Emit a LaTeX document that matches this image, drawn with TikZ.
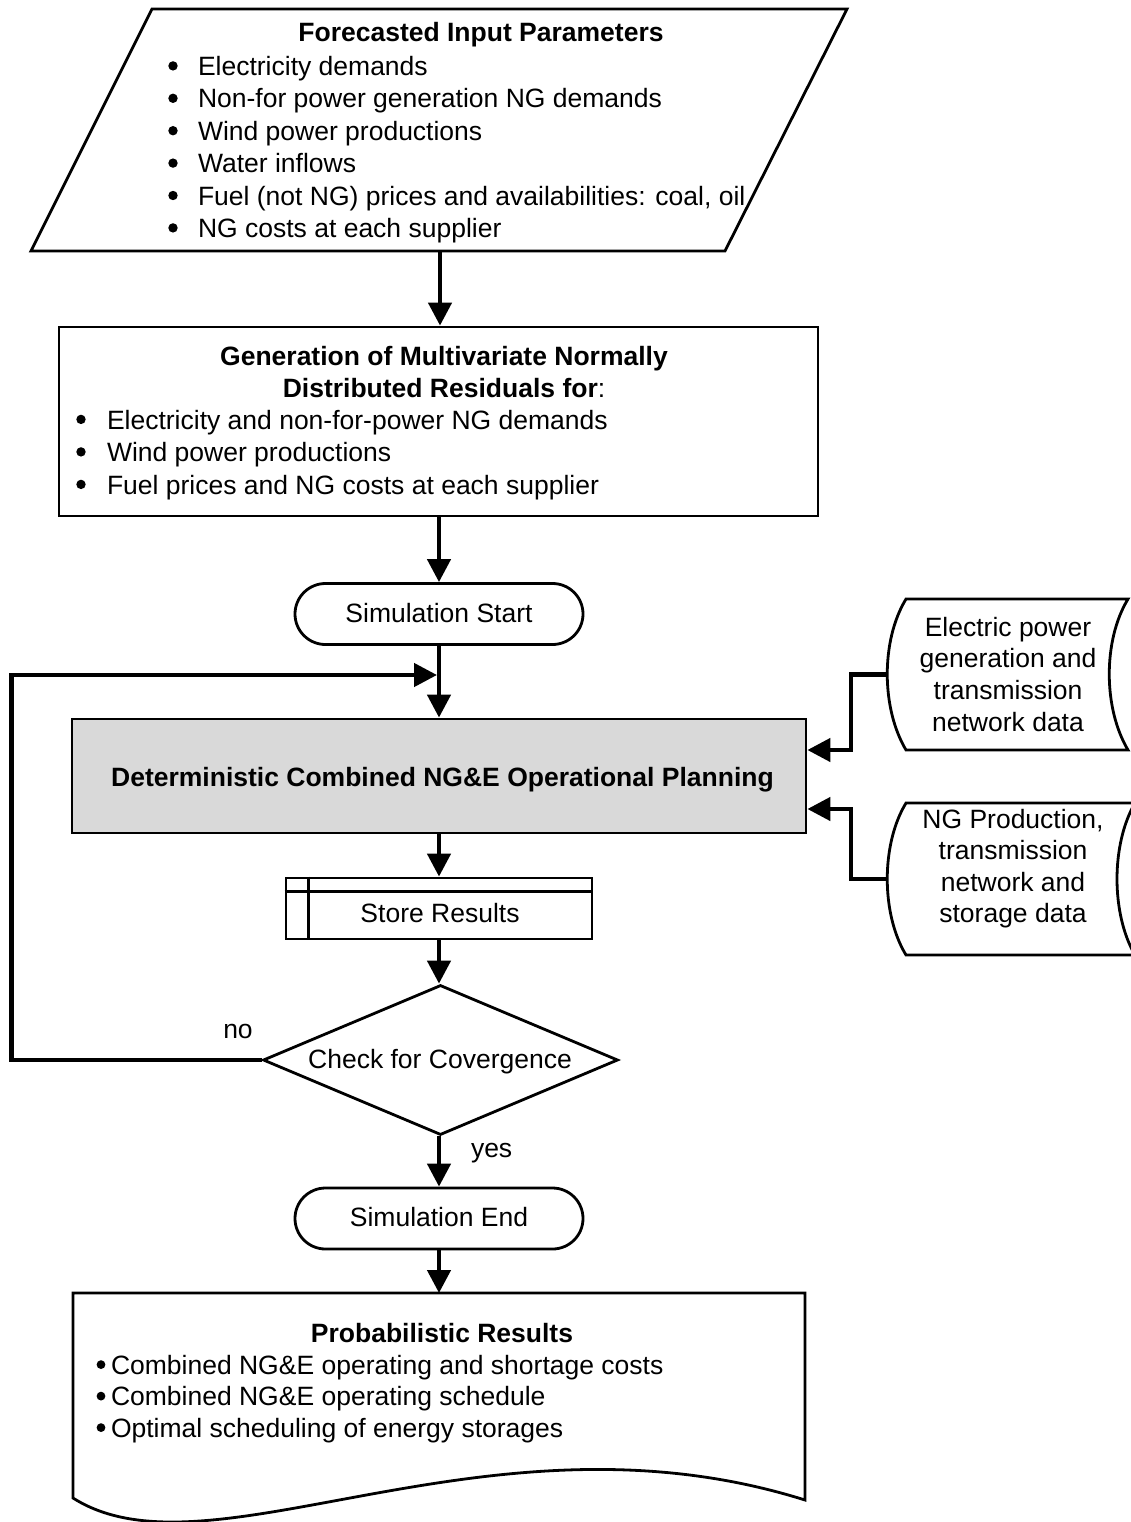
\documentclass[tikz,border=0pt]{standalone}
\usepackage{fontspec}
\setmainfont{Liberation Sans}
\usetikzlibrary{arrows.meta,shapes.geometric}
\definecolor{planfill}{HTML}{D9D9D9}
\begin{document}
\begin{tikzpicture}[x=1pt,y=-1pt,
  shp/.style={draw=black, line width=2.8pt},
  con/.style={draw=black, line width=4.5pt, -{Triangle[length=23pt,width=23pt]}},
  txt/.style={inner sep=0pt, outer sep=0pt, anchor=base, font=\fontsize{26.5}{32}\selectfont},
  txtl/.style={txt, anchor=base west},
  bold/.style={font=\fontsize{26.5}{32}\selectfont\bfseries},
  term/.style={shp, rectangle, rounded corners=30.5pt, minimum width=288pt, minimum height=61pt,
    inner sep=0pt, text height=16.5pt, text depth=0pt, font=\fontsize{26.5}{32}\selectfont},
]
\useasboundingbox (0,0) rectangle (1131,1522);

% ---- Forecasted input parameters (parallelogram)
\draw[shp] (152,9) -- (847,9) -- (725,251) -- (31,251) -- cycle;
\coordinate (pbot) at (440,251);
\node[txt, bold] (ftitle) at (481,42) {Forecasted Input Parameters};
\foreach \t [count=\i from 0] in {Electricity demands, Non-for power generation NG demands,
  Wind power productions, Water inflows, {Fuel (not NG) prices and availabilities: coal, oil},
  NG costs at each supplier}
  {\node[txtl] (fi\i) at (198,{75.5+32.4*\i}) {\t};
   \fill (173,{65.9+32.4*\i}) circle (4.7);}

% ---- Generation box
\node[shp, rectangle, minimum width=759pt, minimum height=189pt, inner sep=0pt] (gen) at (438.5,421.5) {};
\node[txt, bold] (gt1) at (444,365) {Generation of Multivariate Normally};
\node[txt] (gt2) at (444,397) {\textbf{Distributed Residuals for}:};
\foreach \t [count=\i from 0] in {Electricity and non-for-power NG demands, Wind power productions,
  Fuel prices and NG costs at each supplier}
  {\node[txtl] (gi\i) at (107,{429+32.5*\i}) {\t};
   \fill (81,{419.4+32.5*\i}) circle (4.7);}

% ---- Simulation start
\node[term] (start) at (439,614) {Simulation Start};

% ---- Planning box
\node[shp, rectangle, fill=planfill, minimum width=734pt, minimum height=114pt, inner sep=0pt] (plan) at (439,776) {};
\node[txt, bold] (ptext) at (442.5,786) {Deterministic Combined NG\&E Operational Planning};

% ---- Store results
\node[shp, rectangle, minimum width=306pt, minimum height=61pt, inner sep=0pt] (store) at (439,908.5) {};
\draw[shp] ([yshift=-15pt]store.north west) -- ([yshift=-15pt]store.north east);
\draw[shp] ([xshift=24pt]store.north west) -- ([xshift=24pt]store.south west);
\node[txt] (stext) at (440,922) {Store Results};

% ---- Decision
\node[shp, diamond, minimum width=355pt, minimum height=150pt, inner sep=0pt] (check) at (440.5,1060) {};
\node[txt] (ctext) at (440,1068) {Check for Covergence};
\node[txt] (no) at (238,1038) {no};
\node[txtl] (yes) at (471,1157) {yes};

% ---- Simulation end
\node[term] (end) at (439,1218.5) {Simulation End};

% ---- Probabilistic results (document)
\draw[shp] (73,1293) -- (805,1293) -- (805,1500)
  .. controls (487,1400) and (210,1585) .. (73,1498) -- cycle;
\coordinate (doctop) at (439,1293);
\node[txt, bold] (rtitle) at (442,1342) {Probabilistic Results};
\foreach \t [count=\i from 0] in {Combined NG\&E operating and shortage costs,
  Combined NG\&E operating schedule, Optimal scheduling of energy storages}
  {\node[txtl] (ri\i) at (111,{1374+31.5*\i}) {\t};
   \fill (101,{1364.6+31.5*\i}) circle (4.4);}

% ---- Stored data shapes (right)
\draw[shp] (906,599) -- (1128,599) .. controls (1103,640) and (1103,708) .. (1128,750)
  -- (906,750) .. controls (881,708) and (881,640) .. (906,599) -- cycle;
\foreach \t [count=\i from 0] in {Electric power, generation and, transmission, network data}
  \node[txt] (ed\i) at (1008,{636+31.7*\i}) {\t};
\draw[shp] (906,803) -- (1135,803) .. controls (1111,844) and (1111,914) .. (1135,955)
  -- (906,955) .. controls (881,914) and (881,844) .. (906,803) -- cycle;
\foreach \t [count=\i from 0] in {{NG Production,}, transmission, network and, storage data}
  \node[txt] (nd\i) at (1013,{828+31.5*\i}) {\t};
\coordinate (e1) at (887,674.5);
\coordinate (e1b) at (851,750);
\coordinate (n1) at (887.5,879);
\coordinate (n1b) at (851,809);

% ---- Connectors
\draw[con] (pbot) -- (pbot |- gen.north);
\draw[con] (start.north |- gen.south) -- (start.north);
\draw[con] (start.south) -- (plan.north);
\draw[con] (plan.south) -- (store.north);
\draw[con] (store.south) -- (store.south |- check.north);
\draw[con] (check.south -| end.north) -- (end.north);
\draw[con] (end.south) -- (doctop);
\coordinate (loopx) at (11.5,675);
\coordinate (loopt) at (437,675);
\draw[con] (check.west) -| (loopx) -- (loopt);
\draw[con] (e1) -| (e1b) -- (e1b -| plan.east);
\draw[con] (n1) -| (n1b) -- (n1b -| plan.east);
\end{tikzpicture}
\end{document}
